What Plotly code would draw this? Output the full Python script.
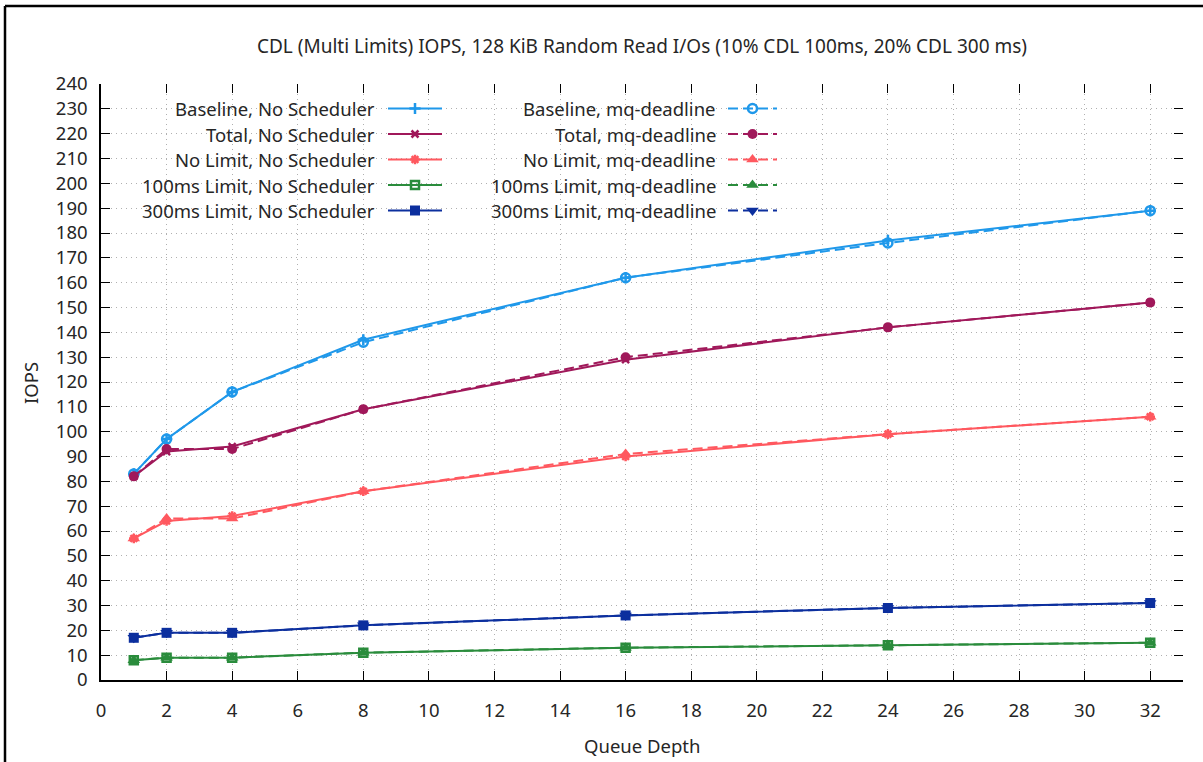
import plotly.graph_objects as go

# ---------------- data ----------------
queue_depth = [1, 2, 4, 8, 16, 24, 32]

baseline_nosched = [83, 97, 116, 137, 162, 177, 189]
total_nosched = [82, 92, 94, 109, 129, 142, 152]
nolimit_nosched = [57, 64, 66, 76, 90, 99, 106]
limit100_nosched = [8, 9, 9, 11, 13, 14, 15]
limit300_nosched = [17, 19, 19, 22, 26, 29, 31]

baseline_mq = [83, 97, 116, 136, 162, 176, 189]
total_mq = [82, 93, 93, 109, 130, 142, 152]
nolimit_mq = [57, 65, 65, 76, 91, 99, 106]
limit100_mq = [8, 9, 9, 11, 13, 14, 15]
limit300_mq = [17, 19, 19, 22, 26, 29, 31]

x_ticks = list(range(0, 33, 2))
y_ticks = list(range(0, 241, 10))

title_text = "CDL (Multi Limits) IOPS, 128 KiB Random Read I/Os (10% CDL 100ms, 20% CDL 300 ms)"
x_title = "Queue Depth"
y_title = "IOPS"

# ---------------- layout constants ----------------
W, H = 1203, 762
L, R, T, B = 101, 1183, 84, 680          # plot area in pixels
XR = [0, 33]
YR = [0, 240]
FONT = "Noto Sans"
FS_TICK = 18.5
FS_LEG = 18.5
FS_TITLE = 19
TXT = "#262626"

C_BASE = "#1f98ea"
C_TOTAL = "#a0185a"
C_NOLIM = "#ff585f"
C_100 = "#2a8c3c"
C_300 = "#0c2f9e"

series = [
    ("Baseline, No Scheduler", baseline_nosched, C_BASE, "cross-thin-open", "solid", 8),
    ("Total, No Scheduler", total_nosched, C_TOTAL, "x-thin-open", "solid", 7),
    ("No Limit, No Scheduler", nolimit_nosched, C_NOLIM, "asterisk-open", "solid", 8),
    ("100ms Limit, No Scheduler", limit100_nosched, C_100, "square-open", "solid", 8),
    ("300ms Limit, No Scheduler", limit300_nosched, C_300, "square", "solid", 10),
    ("Baseline, mq-deadline", baseline_mq, C_BASE, "circle-open", "dash", 9),
    ("Total, mq-deadline", total_mq, C_TOTAL, "circle", "dash", 10),
    ("No Limit, mq-deadline", nolimit_mq, C_NOLIM, "triangle-up", "dash", 11),
    ("100ms Limit, mq-deadline", limit100_mq, C_100, "triangle-up", "dash", 11),
    ("300ms Limit, mq-deadline", limit300_mq, C_300, "triangle-down", "dash", 11),
]
DASH = "10px,5px"


def px_to_data(px, py):
    x = XR[0] + (px - L) / (R - L) * (XR[1] - XR[0])
    y = YR[0] + (B - py) / (B - T) * (YR[1] - YR[0])
    return x, y


def px_to_paper(px, py):
    return (px - L) / (R - L), (B - py) / (B - T)


def marker_style(color, symbol, size):
    thin = symbol.endswith("-open")
    return dict(
        symbol=symbol,
        size=size,
        color=color,
        line=dict(color=color, width=2.5 if thin else 0),
    )


fig = go.Figure()

for name, vals, color, symbol, dash, msize in series:
    fig.add_trace(go.Scatter(
        x=queue_depth, y=vals, name=name, mode="lines+markers",
        line=dict(color=color, width=2, dash=DASH if dash == "dash" else "solid"),
        marker=marker_style(color, symbol, msize),
        showlegend=False,
    ))

# dummy trace so the mirrored (tick-only) axes get drawn
fig.add_trace(go.Scatter(x=[None], y=[None], xaxis="x2", yaxis="y2",
                         showlegend=False, hoverinfo="skip"))

# ---------------- custom legend (text right-aligned, sample on the right) ----
shapes = []
annotations = []
row_y0, row_dy = 108.5, 25.5
cols = [
    dict(text_right=377, s0=388, s1=442),
    dict(text_right=718, s0=728, s1=777),
]
for i, (name, vals, color, symbol, dash, msize) in enumerate(series):
    c = cols[i // 5]
    py = row_y0 + row_dy * (i % 5)
    ax, ay = px_to_paper(c["text_right"], py)
    annotations.append(dict(
        text=name, x=ax, y=ay, xref="paper", yref="paper",
        xanchor="right", yanchor="middle", showarrow=False,
        font=dict(family=FONT, size=FS_LEG, color=TXT),
    ))
    x0, y0 = px_to_data(c["s0"], py)
    x1, _ = px_to_data(c["s1"], py)
    shapes.append(dict(
        type="line", xref="x", yref="y", x0=x0, x1=x1, y0=y0, y1=y0,
        line=dict(color=color, width=2, dash=DASH if dash == "dash" else "solid"),
    ))
    mx, _ = px_to_data((c["s0"] + c["s1"]) / 2, py)
    fig.add_trace(go.Scatter(
        x=[mx], y=[y0], mode="markers", marker=marker_style(color, symbol, msize),
        showlegend=False, hoverinfo="skip",
    ))

# axis titles
tx, ty = px_to_paper(642, 745)
annotations.append(dict(text=x_title, x=tx, y=ty, xref="paper", yref="paper",
                        xanchor="center", yanchor="middle", showarrow=False,
                        font=dict(family=FONT, size=FS_LEG, color=TXT)))
tx, ty = px_to_paper(30, 383)
annotations.append(dict(text=y_title, x=tx, y=ty, xref="paper", yref="paper",
                        xanchor="center", yanchor="middle", showarrow=False,
                        textangle=-90, font=dict(family=FONT, size=FS_LEG, color=TXT)))

# outer frame (left and top edges of the screenshot border)
fx0, fy0 = px_to_paper(5, 6)
fx1, fy1 = px_to_paper(W, H)
shapes.append(dict(type="line", xref="paper", yref="paper", x0=fx0, x1=fx0,
                   y0=fy0, y1=fy1, line=dict(color="black", width=2.5)))
shapes.append(dict(type="line", xref="paper", yref="paper", x0=fx0, x1=fx1,
                   y0=fy0, y1=fy0, line=dict(color="black", width=2.5)))

axis_common = dict(
    ticks="inside", ticklen=9, tickwidth=1.3, tickcolor="black",
    tickfont=dict(family=FONT, size=FS_TICK, color=TXT),
    zeroline=False, fixedrange=True,
)

fig.update_layout(
    width=W, height=H,
    margin=dict(l=L, r=W - R, t=T, b=H - B, pad=0),
    paper_bgcolor="white", plot_bgcolor="white",
    title=dict(text=title_text, x=px_to_paper(642, 0)[0], xref="paper", xanchor="center",
               y=1 - 46 / H, yref="container", yanchor="middle",
               font=dict(family=FONT, size=FS_TITLE, color=TXT)),
    xaxis=dict(range=XR, tickvals=x_ticks, showline=True, linecolor="black", linewidth=1.5,
               showgrid=True, gridcolor="#b0b0b0", gridwidth=1, griddash="1px,4px",
               ticklabelstandoff=13, **axis_common),
    yaxis=dict(range=YR, tickvals=y_ticks, showline=True, linecolor="black", linewidth=1.5,
               showgrid=True, gridcolor="#b0b0b0", gridwidth=1, griddash="1px,4px",
               ticklabelstandoff=8, **axis_common),
    xaxis2=dict(range=XR, tickvals=x_ticks, overlaying="x", side="top", anchor="y2",
                showline=False, showgrid=False, showticklabels=False, **axis_common),
    yaxis2=dict(range=YR, tickvals=y_ticks, overlaying="y", side="right", anchor="x2",
                showline=False, showgrid=False, showticklabels=False, **axis_common),
    shapes=shapes,
    annotations=annotations,
    showlegend=False,
    hovermode=False,
)

fig.write_html("out.html")
